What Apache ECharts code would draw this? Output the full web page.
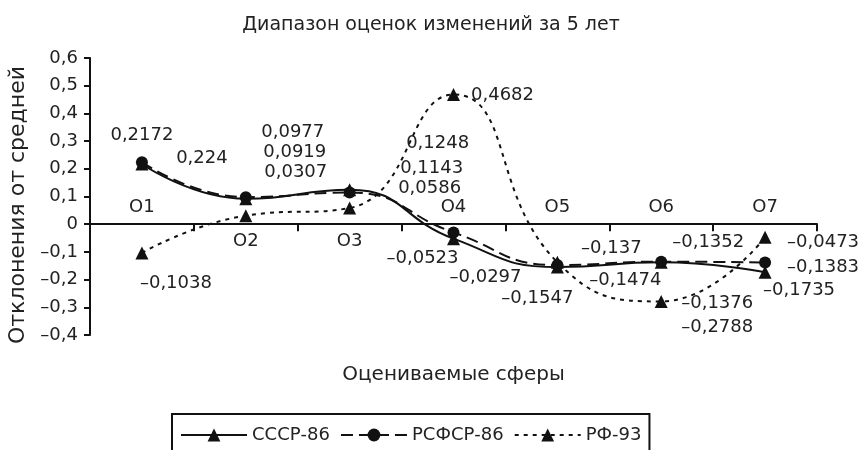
<!DOCTYPE html>
<html>
<head>
<meta charset="utf-8">
<script src="https://cdn.jsdelivr.net/npm/echarts@6/dist/echarts.min.js"></script>
<style>html,body{margin:0;padding:0;background:#fff}#c{width:862px;height:450px}</style>
</head>
<body>
<div id="c"></div>
<script>
// ---- data ----
const categories = ['О1', 'О2', 'О3', 'О4', 'О5', 'О6', 'О7'];
const seriesNames = ['СССР-86', 'РСФСР-86', 'РФ-93'];
const ussr86 = [0.2172, 0.0919, 0.1248, -0.0523, -0.1547, -0.1376, -0.1735];
const rsfsr86 = [0.224, 0.0977, 0.1143, -0.0297, -0.1474, -0.1352, -0.1383];
const rf93 = [-0.1038, 0.0307, 0.0586, 0.4682, -0.137, -0.2788, -0.0473];
const yMin = -0.4, yMax = 0.6, yStep = 0.1;
const titleText = 'Диапазон оценок изменений за 5 лет';
const xName = 'Оцениваемые сферы';
const yName = 'Отклонения от средней';

// ---- layout (label placement) ----
const ussrOff = [[0,-29],[49,-46],[88,-46],[-31,20],[-20,31],[56,41],[34,18]];
const rsfsrOff = [[60,-4],[47,-65],[82,-24],[32,45],[68,15],[47,-19],[58,5]];
const rfOff = [[34,30],[50,-43],[80,-20],[49,1],[54,-14],[56,26],[58,5]];
const belowCats = [1, 2];

const FONT = 'DejaVu Sans, sans-serif';
const fmtNum = v => String(v).replace('.', ',').replace('-', '–');

function mk(vals, offs) {
  return vals.map((v, i) => ({ value: v, label: { offset: offs[i] } }));
}
function series(name, vals, offs, symbol, size, lineType) {
  return {
    name, type: 'line', smooth: 0.5, data: mk(vals, offs),
    symbol, symbolSize: size,
    itemStyle: { color: '#111' },
    lineStyle: { color: '#111', width: 2, type: lineType },
    label: {
      show: true, position: 'inside', color: '#222', fontSize: 18, fontFamily: FONT,
      formatter: p => fmtNum(p.value)
    },
    emphasis: { disabled: true }
  };
}

const chart = echarts.init(document.getElementById('c'));
chart.setOption({
  animation: false,
  backgroundColor: '#fff',
  textStyle: { fontFamily: FONT },
  title: {
    text: titleText, left: 'center', top: 11,
    textStyle: { fontSize: 19, fontWeight: 'normal', color: '#222', fontFamily: FONT }
  },
  grid: { left: 90, right: 45, top: 58, bottom: 115, outerBoundsMode: 'none', containLabel: false },
  legend: {
    left: 172, top: 414,
    padding: [12, 8, 30, 8],
    borderColor: '#111', borderWidth: 2,
    itemWidth: 66, itemHeight: 16, itemGap: 10,
    textStyle: { fontSize: 18, color: '#222', fontFamily: FONT },
    data: seriesNames
  },
  xAxis: {
    type: 'category', data: categories, boundaryGap: true,
    name: xName, nameLocation: 'middle', nameGap: 30,
    nameTextStyle: { fontSize: 20, color: '#222', fontFamily: FONT },
    axisLine: { onZero: true, lineStyle: { color: '#111', width: 2 } },
    axisTick: { show: true, interval: 0, length: 7, lineStyle: { color: '#111', width: 2 } },
    axisLabel: {
      interval: 0, margin: -137, color: '#222', fontSize: 18,
      formatter: (v, i) => (belowCats.indexOf(i) >= 0 ? '{dn|' + v + '}' : '{up|' + v + '}'),
      rich: {
        up: { fontSize: 18, lineHeight: 18, color: '#222', fontFamily: FONT },
        dn: { fontSize: 18, lineHeight: 86, color: '#222', fontFamily: FONT }
      }
    },
    splitLine: { show: false }
  },
  yAxis: {
    type: 'value', min: yMin, max: yMax, interval: yStep,
    name: yName, nameLocation: 'middle', nameGap: 46, nameRotate: 90,
    nameTextStyle: { fontSize: 22, color: '#222', fontFamily: FONT, padding: [0, 17, 0, 0] },
    axisLine: { show: true, lineStyle: { color: '#111', width: 2 } },
    axisTick: { show: true, length: 6, lineStyle: { color: '#111', width: 2 } },
    axisLabel: {
      margin: 12, color: '#222', fontSize: 18, fontFamily: FONT,
      formatter: v => { const r = Math.round(v * 10) / 10; return r === 0 ? '0' : fmtNum(r.toFixed(1)); }
    },
    splitLine: { show: false }
  },
  series: [
    series(seriesNames[0], ussr86, ussrOff, 'triangle', 13, 'solid'),
    series(seriesNames[1], rsfsr86, rsfsrOff, 'circle', 12, [12, 6]),
    series(seriesNames[2], rf93, rfOff, 'triangle', 13, [4, 5])
  ]
});
</script>
</body>
</html>
